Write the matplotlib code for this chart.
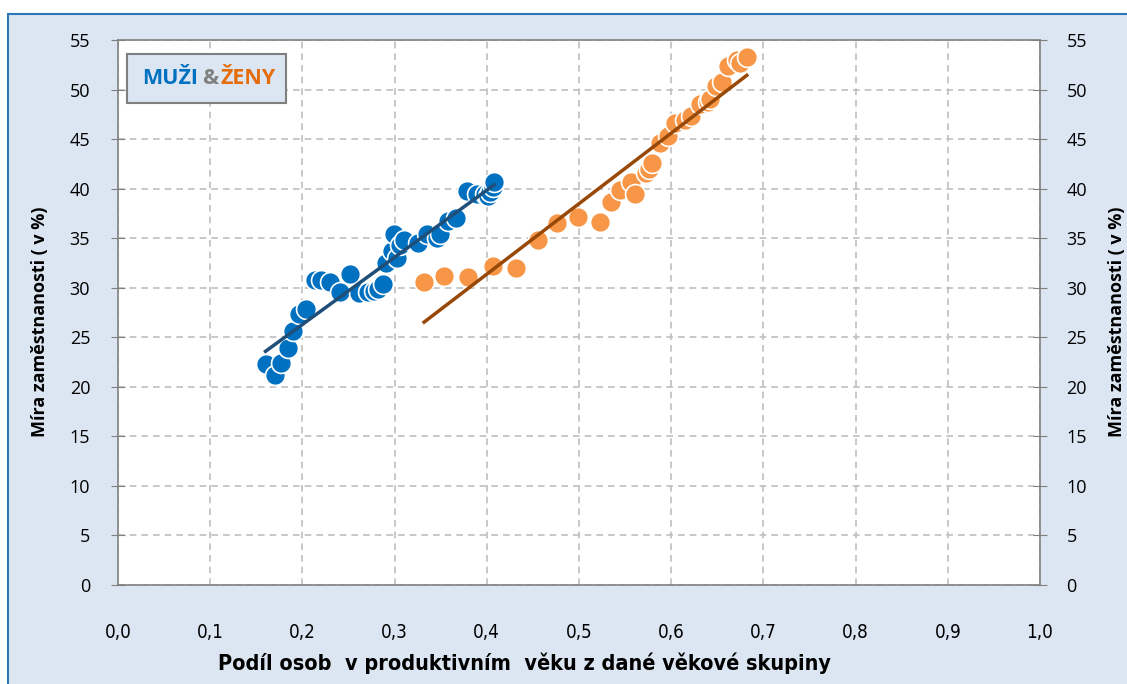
import matplotlib.pyplot as plt
from matplotlib.patches import Rectangle
import numpy as np

# data
muzi_x = [0.160, 0.170, 0.177, 0.184, 0.190, 0.196, 0.204, 0.214, 0.220, 0.230,
          0.241, 0.252, 0.261, 0.271, 0.278, 0.282, 0.287, 0.291, 0.297, 0.299,
          0.303, 0.306, 0.310, 0.325, 0.335, 0.346, 0.349, 0.358, 0.367, 0.379,
          0.389, 0.398, 0.401, 0.403, 0.407, 0.408]
muzi_y = [22.3, 21.2, 22.4, 23.9, 25.6, 27.3, 27.9, 30.8, 30.8, 30.6,
          29.6, 31.4, 29.5, 29.6, 29.7, 29.9, 30.4, 32.5, 33.7, 35.4,
          33.0, 34.3, 34.8, 34.5, 35.4, 35.0, 35.4, 36.7, 37.0, 39.8,
          39.5, 39.5, 39.3, 39.7, 40.2, 40.7]

zeny_x = [0.332, 0.354, 0.380, 0.407, 0.432, 0.456, 0.476, 0.499, 0.523, 0.535,
          0.544, 0.556, 0.561, 0.573, 0.576, 0.579, 0.588, 0.597, 0.604, 0.615,
          0.622, 0.631, 0.640, 0.642, 0.649, 0.655, 0.662, 0.671, 0.675, 0.682]
zeny_y = [30.6, 31.2, 31.1, 32.2, 32.0, 34.8, 36.5, 37.1, 36.6, 38.7,
          39.9, 40.7, 39.5, 41.6, 42.0, 42.6, 44.6, 45.3, 46.6, 46.9,
          47.3, 48.5, 48.7, 49.0, 50.4, 50.8, 52.4, 53.0, 52.7, 53.3]

x_ticks = np.arange(0, 1.01, 0.1)
y_ticks = np.arange(0, 56, 5)

fig = plt.figure(figsize=(11.27, 6.84), dpi=100)
fig.patch.set_facecolor('white')

# blue panel behind the chart
fig.patches.append(Rectangle((8 / 1127, -0.1), 1.2, 1 - 14 / 684 + 0.1,
                             transform=fig.transFigure, facecolor='#dce6f2',
                             edgecolor='#2e75b6', linewidth=1.5, zorder=-10))

ax = fig.add_axes([118 / 1127, 1 - 585 / 684, 922 / 1127, 545 / 684])
ax.set_facecolor('white')

ax.scatter(muzi_x, muzi_y, s=205, color='#0070c0', edgecolor='white',
           linewidth=1.2, zorder=3)
ax.scatter(zeny_x, zeny_y, s=205, color='#f79646', edgecolor='white',
           linewidth=1.2, zorder=3)

# linear trend lines
for xs, ys, c in [(muzi_x, muzi_y, '#1f4e79'), (zeny_x, zeny_y, '#984807')]:
    k, q = np.polyfit(xs, ys, 1)
    xx = np.array([min(xs), max(xs)])
    ax.plot(xx, k * xx + q, color=c, linewidth=2.5, zorder=4)

ax.set_xlim(0, 1.0)
ax.set_ylim(0, 55)
ax.set_xticks(x_ticks)
ax.set_xticklabels([f'{v:.1f}'.replace('.', ',') for v in x_ticks],
                   fontsize=13.5, family='DejaVu Sans', stretch='condensed')
ax.set_yticks(y_ticks)
ax.tick_params(axis='x', length=0, pad=27)
ax.tick_params(axis='y', direction='inout', length=10, color='#808080',
               labelsize=13, pad=15)
for lab in ax.get_yticklabels():
    lab.set_family('Open Sans')
ax.grid(True, color='#bfbfbf', linestyle=(0, (4, 3)), linewidth=1.2)
for s in ax.spines.values():
    s.set_color('#808080')
    s.set_linewidth(1.2)

ax.set_xlabel('Podíl osob  v produktivním  věku z dané věkové skupiny',
              fontsize=15.5, fontweight='bold', family='DejaVu Sans',
              stretch='condensed')
ax.xaxis.set_label_coords((525 - 118) / 922, -(652 - 585) / 545)
ax.set_ylabel('Míra zaměstnanosti ( v %)', fontsize=13, fontweight='bold',
              family='Open Sans')
ax.yaxis.set_label_coords(-(118 - 49) / 922, (585 - 322) / 545)

ax2 = ax.twinx()
ax2.set_ylim(0, 55)
ax2.set_yticks(y_ticks)
ax2.tick_params(axis='y', direction='inout', length=10, color='#808080',
                labelsize=13, pad=14)
for lab in ax2.get_yticklabels():
    lab.set_family('Open Sans')
for s in ax2.spines.values():
    s.set_visible(False)
ax2.set_ylabel('Míra zaměstnanosti ( v %)', fontsize=13, fontweight='bold',
               family='Open Sans')
ax2.yaxis.set_label_coords((1108 - 118) / 922, (585 - 322) / 545)

# label box
fig.patches.append(Rectangle((127 / 1127, 1 - 103 / 684), 159 / 1127, 49 / 684,
                             transform=fig.transFigure, facecolor='#dce6f2',
                             edgecolor='#7f7f7f', linewidth=1.5, zorder=5))
ty = 1 - 79 / 684
fig.text(170 / 1127, ty, 'MUŽI', color='#0070c0', fontsize=15.5, fontweight='bold',
         family='Open Sans', ha='center', va='center', zorder=6)
fig.text(210 / 1127, ty, '&', color='#808080', fontsize=15.5, fontweight='bold',
         family='Open Sans', ha='center', va='center', zorder=6)
fig.text(248 / 1127, ty, 'ŽENY', color='#e46c0a', fontsize=15.5, fontweight='bold',
         family='Open Sans', ha='center', va='center', zorder=6)

fig.savefig('out.png', dpi=100)
